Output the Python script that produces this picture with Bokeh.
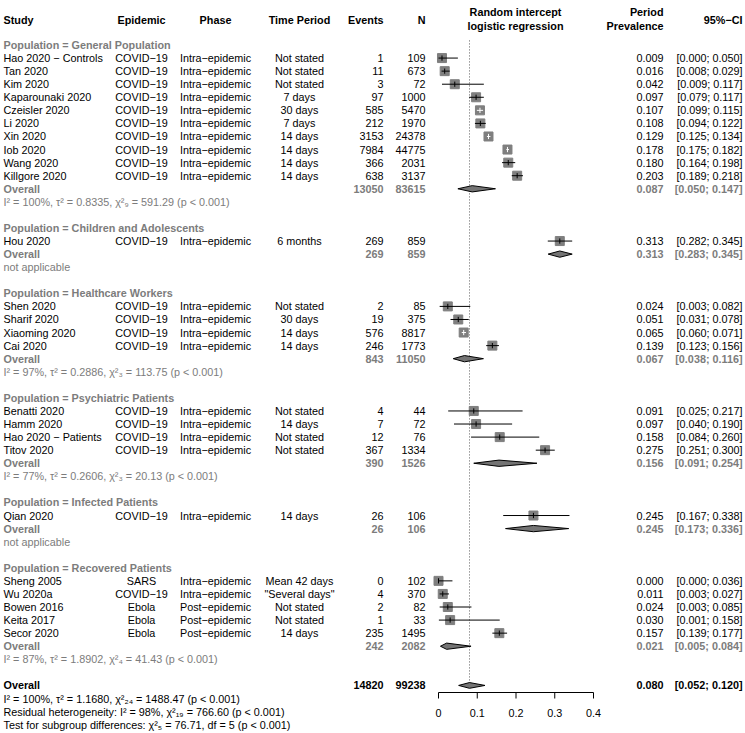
from bokeh.plotting import figure
from bokeh.models import Range1d, ColumnDataSource
from bokeh.core.properties import value
from bokeh.embed import file_html
from bokeh.resources import INLINE

M = "\u2212"

# ---------------- data ----------------
groups = ["General Population", "Children and Adolescents", "Healthcare Workers",
          "Psychiatric Patients", "Infected Patients", "Recovered Patients"]

study = ["Hao 2020 " + M + " Controls", "Tan 2020", "Kim 2020", "Kaparounaki 2020", "Czeisler 2020",
         "Li 2020", "Xin 2020", "Iob 2020", "Wang 2020", "Killgore 2020",
         "Hou 2020",
         "Shen 2020", "Sharif 2020", "Xiaoming 2020", "Cai 2020",
         "Benatti 2020", "Hamm 2020", "Hao 2020 " + M + " Patients", "Titov 2020",
         "Qian 2020",
         "Sheng 2005", "Wu 2020a", "Bowen 2016", "Keita 2017", "Secor 2020"]
study_group = [0] * 10 + [1] + [2] * 4 + [3] * 4 + [4] + [5] * 5
epidemic = ["COVID" + M + "19"] * 20 + ["SARS", "COVID" + M + "19", "Ebola", "Ebola", "Ebola"]
phase = ["Intra" + M + "epidemic"] * 22 + ["Post" + M + "epidemic"] * 3
period = ["Not stated", "Not stated", "Not stated", "7 days", "30 days", "7 days", "14 days",
          "14 days", "14 days", "14 days",
          "6 months",
          "Not stated", "30 days", "14 days", "14 days",
          "Not stated", "14 days", "Not stated", "Not stated",
          "14 days",
          "Mean 42 days", "\"Several days\"", "Not stated", "Not stated", "14 days"]
events = [1, 11, 3, 97, 585, 212, 3153, 7984, 366, 638,
          269,
          2, 19, 576, 246,
          4, 7, 12, 367,
          26,
          0, 4, 2, 1, 235]
n_total = [109, 673, 72, 1000, 5470, 1970, 24378, 44775, 2031, 3137,
           859,
           85, 375, 8817, 1773,
           44, 72, 76, 1334,
           106,
           102, 370, 82, 33, 1495]
prev = [0.009, 0.016, 0.042, 0.097, 0.107, 0.108, 0.129, 0.178, 0.180, 0.203,
        0.313,
        0.024, 0.051, 0.065, 0.139,
        0.091, 0.097, 0.158, 0.275,
        0.245,
        0.000, 0.011, 0.024, 0.030, 0.157]
ci_lo = [0.000, 0.008, 0.009, 0.079, 0.099, 0.094, 0.125, 0.175, 0.164, 0.189,
         0.282,
         0.003, 0.031, 0.060, 0.123,
         0.025, 0.040, 0.084, 0.251,
         0.167,
         0.000, 0.003, 0.003, 0.001, 0.139]
ci_hi = [0.050, 0.029, 0.117, 0.117, 0.115, 0.122, 0.134, 0.182, 0.198, 0.218,
         0.345,
         0.082, 0.078, 0.071, 0.156,
         0.217, 0.190, 0.260, 0.300,
         0.338,
         0.036, 0.027, 0.085, 0.158, 0.177]

sub_events = [13050, 269, 843, 390, 26, 242]
sub_n = [83615, 859, 11050, 1526, 106, 2082]
sub_prev = [0.087, 0.313, 0.067, 0.156, 0.245, 0.021]
sub_lo = [0.050, 0.283, 0.038, 0.091, 0.173, 0.005]
sub_hi = [0.147, 0.345, 0.116, 0.254, 0.336, 0.084]
sub_het = ["I\u00b2 = 100%, \u03c4\u00b2 = 0.8335, \u03c7\u00b2\u2089 = 591.29 (p < 0.001)",
           "not applicable",
           "I\u00b2 = 97%, \u03c4\u00b2 = 0.2886, \u03c7\u00b2\u2083 = 113.75 (p < 0.001)",
           "I\u00b2 = 77%, \u03c4\u00b2 = 0.2606, \u03c7\u00b2\u2083 = 20.13 (p < 0.001)",
           "not applicable",
           "I\u00b2 = 87%, \u03c4\u00b2 = 1.8902, \u03c7\u00b2\u2084 = 41.43 (p < 0.001)"]

overall_events = 14820
overall_n = 99238
overall_prev = 0.080
overall_lo = 0.052
overall_hi = 0.120
overall_het = ["I\u00b2 = 100%, \u03c4\u00b2 = 1.1680, \u03c7\u00b2\u2082\u2084 = 1488.47 (p < 0.001)",
               "Residual heterogeneity: I\u00b2 = 98%, \u03c7\u00b2\u2081\u2089 = 766.60 (p < 0.001)",
               "Test for subgroup differences: \u03c7\u00b2\u2085 = 76.71, df = 5 (p < 0.001)"]

axis_ticks = [0, 0.1, 0.2, 0.3, 0.4]
axis_tick_labels = ["0", "0.1", "0.2", "0.3", "0.4"]

# ---------------- layout ----------------
FONT = "Liberation Sans"
FS = "10.8px"
GRAY = "#7c7c7c"
SQ = "#7f7f7f"
DIA = "#747474"

W, H = 745, 733
ROW0, ROWH = 44.5, 13.07          # pixel position of row 0 and row height
PX_PER_UNIT = 387.5               # forest scale (pixels per prevalence unit)
X0_PX = 438.0                     # forest zero position
AXIS_PX = 692.0                   # forest axis line position
TICKLAB_PX = 712.0


def row_of(px):
    return (px - ROW0) / ROWH


p = figure(width=W, height=H, x_range=Range1d(0, W), y_range=Range1d(row_of(H), row_of(0)),
           output_backend="svg", toolbar_location=None, x_axis_type=None, y_axis_type=None,
           min_border=0)
p.extra_x_ranges = {"forest": Range1d((0 - X0_PX) / PX_PER_UNIT, (W - X0_PX) / PX_PER_UNIT)}
p.outline_line_color = None
p.grid.visible = False
p.background_fill_color = "white"
p.border_fill_color = "white"

# columns (pixel x)
C_STUDY, C_EPI, C_PHASE, C_PERIOD = 3, 141, 215, 299
C_EVENTS, C_N, C_FOREST, C_PREV, C_CI = 383, 425, 515, 663, 742

# row assignment
study_rows = [0] * len(study)
header_rows, sub_rows, het_rows = [], [], []
r = 0
for g in range(len(groups)):
    header_rows.append(r); r += 1
    for i, sg in enumerate(study_group):
        if sg == g:
            study_rows[i] = r; r += 1
    sub_rows.append(r); r += 1
    het_rows.append(r); r += 1
    r += 1
overall_row = r

T = dict(x=[], y=[], text=[], align=[], color=[], style=[])


def add(x, y, text, align="left", color="black", style="normal"):
    T["x"].append(x); T["y"].append(y); T["text"].append(text)
    T["align"].append(align); T["color"].append(color); T["style"].append(style)


# headers
add(C_STUDY, -1.95, "Study", "left", "black", "bold")
add(C_EPI, -1.95, "Epidemic", "center", "black", "bold")
add(C_PHASE, -1.95, "Phase", "center", "black", "bold")
add(C_PERIOD, -1.95, "Time Period", "center", "black", "bold")
add(C_EVENTS, -1.95, "Events", "right", "black", "bold")
add(C_N, -1.95, "N", "right", "black", "bold")
add(C_FOREST, -2.5, "Random intercept", "center", "black", "bold")
add(C_FOREST, -1.45, "logistic regression", "center", "black", "bold")
add(C_PREV, -2.5, "Period", "right", "black", "bold")
add(C_PREV, -1.45, "Prevalence", "right", "black", "bold")
add(C_CI, -1.95, "95%" + M + "CI", "right", "black", "bold")

for g, name in enumerate(groups):
    add(C_STUDY, header_rows[g], "Population = " + name, "left", GRAY, "bold")
    rr = sub_rows[g]
    add(C_STUDY, rr, "Overall", "left", GRAY, "bold")
    add(C_EVENTS, rr, str(sub_events[g]), "right", GRAY, "bold")
    add(C_N, rr, str(sub_n[g]), "right", GRAY, "bold")
    add(C_PREV, rr, f"{sub_prev[g]:.3f}", "right", GRAY, "bold")
    add(C_CI, rr, f"[{sub_lo[g]:.3f}; {sub_hi[g]:.3f}]", "right", GRAY, "bold")
    add(C_STUDY, het_rows[g], sub_het[g], "left", GRAY, "normal")

for i in range(len(study)):
    rr = study_rows[i]
    add(C_STUDY, rr, study[i])
    add(C_EPI, rr, epidemic[i], "center")
    add(C_PHASE, rr, phase[i], "center")
    add(C_PERIOD, rr, period[i], "center")
    add(C_EVENTS, rr, str(events[i]), "right")
    add(C_N, rr, str(n_total[i]), "right")
    add(C_PREV, rr, f"{prev[i]:.3f}", "right")
    add(C_CI, rr, f"[{ci_lo[i]:.3f}; {ci_hi[i]:.3f}]", "right")

add(C_STUDY, overall_row, "Overall", "left", "black", "bold")
add(C_EVENTS, overall_row, str(overall_events), "right", "black", "bold")
add(C_N, overall_row, str(overall_n), "right", "black", "bold")
add(C_PREV, overall_row, f"{overall_prev:.3f}", "right", "black", "bold")
add(C_CI, overall_row, f"[{overall_lo:.3f}; {overall_hi:.3f}]", "right", "black", "bold")
for k, line in enumerate(overall_het):
    add(C_STUDY, overall_row + 1 + k, line, "left", "black", "normal")

p.text(x="x", y="y", text="text", source=ColumnDataSource(T), text_align="align",
       text_color="color", text_font_style="style", text_baseline="middle",
       text_font=value(FONT), text_font_size=FS)

# reference line at overall estimate
p.segment(x0=[overall_prev], x1=[overall_prev], y0=[-0.35], y1=[overall_row + 0.2],
          x_range_name="forest", line_color="#333333", line_width=0.8, line_dash="1 2")

# study squares and CIs
SQ_SIZE = 9
inside = [(ci_hi[i] - ci_lo[i]) * PX_PER_UNIT < SQ_SIZE - 1 for i in range(len(study))]
line_col = ["white" if f else "black" for f in inside]
p.scatter(x=prev, y=study_rows, marker="square", size=SQ_SIZE, x_range_name="forest",
          fill_color=SQ, line_color=SQ)
p.segment(x0=ci_lo, x1=ci_hi, y0=study_rows, y1=study_rows, x_range_name="forest",
          line_color=line_col, line_width=1)
p.segment(x0=prev, x1=prev, y0=[v - 0.2 for v in study_rows], y1=[v + 0.2 for v in study_rows],
          x_range_name="forest", line_color=line_col, line_width=1)

# diamonds
dh = 0.24
xs = [[sub_lo[g], sub_prev[g], sub_hi[g], sub_prev[g]] for g in range(len(groups))]
ys = [[sub_rows[g], sub_rows[g] - dh, sub_rows[g], sub_rows[g] + dh] for g in range(len(groups))]
xs.append([overall_lo, overall_prev, overall_hi, overall_prev])
ys.append([overall_row, overall_row - 0.22, overall_row, overall_row + 0.22])
p.patches(xs=xs, ys=ys, x_range_name="forest", fill_color=DIA, line_color="black", line_width=1)

# forest axis (drawn from the tick arrays through the forest scale)
ya = row_of(AXIS_PX)
yt = row_of(AXIS_PX + 6)
p.segment(x0=[axis_ticks[0]], x1=[axis_ticks[-1]], y0=[ya], y1=[ya], x_range_name="forest",
          line_color="black", line_width=1)
p.segment(x0=axis_ticks, x1=axis_ticks, y0=[ya] * len(axis_ticks), y1=[yt] * len(axis_ticks),
          x_range_name="forest", line_color="black", line_width=1)
p.text(x=axis_ticks, y=[row_of(TICKLAB_PX)] * len(axis_ticks), text=axis_tick_labels,
       x_range_name="forest", text_align="center", text_baseline="middle",
       text_font=value(FONT), text_font_size=FS, text_color="black")

open("out.html", "w").write(file_html(p, INLINE))
